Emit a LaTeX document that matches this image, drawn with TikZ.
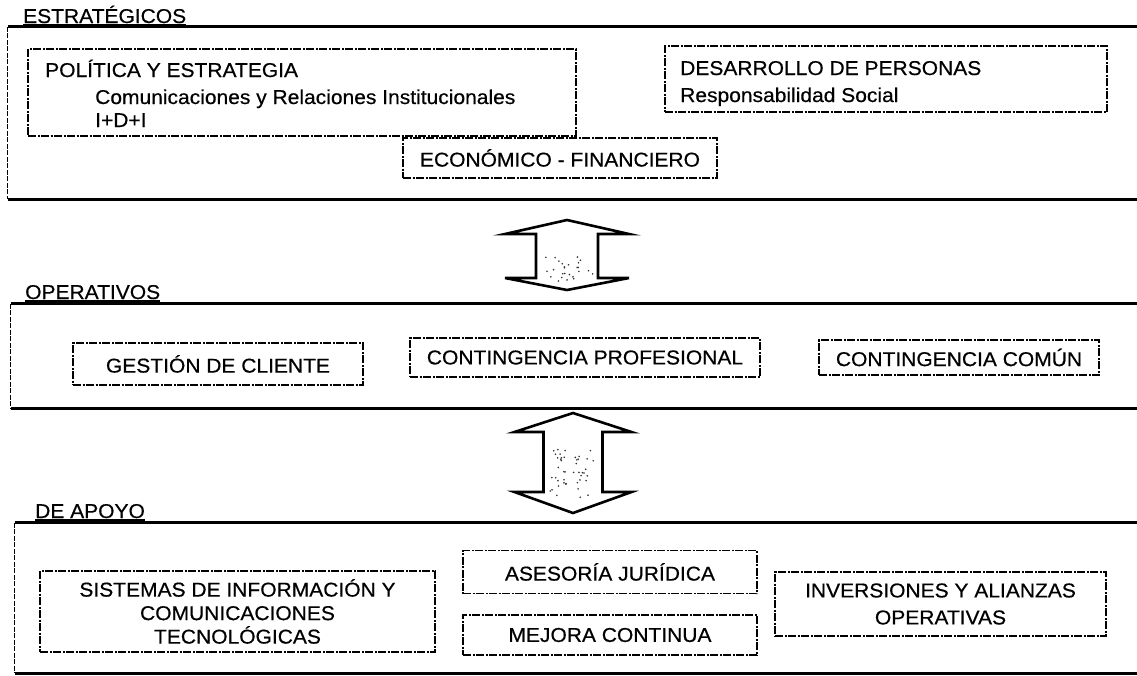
\documentclass[tikz,border=0pt]{standalone}
\usepackage{fontspec}
\setmainfont{Liberation Sans}[FakeStretch=1.05,FakeBold=0.5]
\begin{document}
\begin{tikzpicture}[x=1pt,y=-1pt,
  txt/.style={font=\fontsize{20}{24}\selectfont, inner sep=0pt},
  ibox/.style={draw, line width=1.3pt, dash pattern=on 8pt off 1.5pt on 2pt off 1.5pt,
               inner sep=0pt, font=\fontsize{20}{24}\selectfont, align=center},
  band/.style={inner sep=0pt, draw=none},
  edgeline/.style={line width=3pt},
  sideline/.style={line width=1.3pt, dash pattern=on 5pt off 1.5pt},
  bigarrow/.style={draw, line width=2.6pt, fill=white, line join=miter},
  uline/.style={line width=1.2pt},
  stip/.style={fill=black!80}
]
\useasboundingbox (0,0) rectangle (1137,675);

% ---------- bands ----------
\node[band, minimum width=1129, minimum height=172] (strat) at (572.5,113) {};
\node[band, minimum width=1126, minimum height=104] (oper)  at (574,356) {};
\node[band, minimum width=1122, minimum height=150] (apoyo) at (576,598) {};
\foreach \b in {strat,oper,apoyo}{
  \draw[edgeline] (\b.north west) -- (\b.north east);
  \draw[edgeline] (\b.south west) -- (\b.south east);
  \draw[sideline] (\b.north west) -- (\b.south west);
}

% ---------- titles ----------
\node[txt, anchor=base west] (t1) at (23,23) {ESTRATÉGICOS};
\node[txt, anchor=base west] (t2) at (25,299) {OPERATIVOS};
\node[txt, anchor=base west] (t3) at (35,518) {DE APOYO};
\foreach \t in {t1,t2,t3}{
  \draw[uline] ([yshift=-2pt]\t.base west) -- ([yshift=-2pt]\t.base east);
}

% ---------- estrategicos ----------
\node[ibox, minimum width=548, minimum height=87] (pol) at (302,92.5) {};
\node[txt, anchor=base west] (pol1) at (45,77) {POLÍTICA Y ESTRATEGIA};
\node[txt, anchor=base west] (pol2) at (95,104) {Comunicaciones y Relaciones Institucionales};
\node[txt, anchor=base west] (pol3) at (95,127) {I+D+I};

\node[ibox, minimum width=442, minimum height=66] (des) at (886,79) {};
\node[txt, anchor=base west] (des1) at (680,75) {DESARROLLO DE PERSONAS};
\node[txt, anchor=base west] (des2) at (680,102) {Responsabilidad Social};

\node[ibox, minimum width=314, minimum height=40] (eco) at (560,158) {ECONÓMICO - FINANCIERO};

% ---------- operativos ----------
\node[ibox, minimum width=290, minimum height=42] (ges) at (218,364) {GESTIÓN DE CLIENTE};
\node[ibox, minimum width=350, minimum height=39] (cpr) at (585,357.5) {CONTINGENCIA PROFESIONAL};
\node[ibox, minimum width=280, minimum height=35] (cco) at (959,357.5) {CONTINGENCIA COMÚN};

% ---------- de apoyo ----------
\node[ibox, minimum width=395, minimum height=81, font=\fontsize{20}{23.5}\selectfont] (sis) at (237.5,611.5)
  {SISTEMAS DE INFORMACIÓN Y\\COMUNICACIONES\\TECNOLÓGICAS};
\node[ibox, minimum width=294, minimum height=43] (ase) at (610,572) {ASESORÍA JURÍDICA};
\node[ibox, minimum width=294, minimum height=40] (mej) at (610,635) {MEJORA CONTINUA};
\node[ibox, minimum width=331, minimum height=64, font=\fontsize{20}{27}\selectfont] (inv) at (940.5,604)
  {INVERSIONES Y ALIANZAS\\OPERATIVAS};

% ---------- double arrows ----------
\draw[bigarrow] (567,220) -- (629,234) -- (598,234) -- (598,278) -- (629,278) -- (567,290)
  -- (505,278) -- (536,278) -- (536,234) -- (505,234) -- cycle;
\pgfmathsetseed{5}
\foreach \i in {1,...,26}{
  \pgfmathsetmacro\dx{543+50*rnd}
  \pgfmathsetmacro\dy{256+26*rnd}
  \fill[stip] (\dx,\dy) circle (0.9);
}
\draw[bigarrow] (573,413) -- (631.5,432) -- (602.5,432) -- (602.5,492) -- (631.5,492) -- (573,513)
  -- (514.5,492) -- (543.5,492) -- (543.5,432) -- (514.5,432) -- cycle;
\pgfmathsetseed{11}
\foreach \i in {1,...,45}{
  \pgfmathsetmacro\dx{550+46*rnd}
  \pgfmathsetmacro\dy{447+53*rnd}
  \fill[stip] (\dx,\dy) circle (0.9);
}
\end{tikzpicture}
\end{document}
